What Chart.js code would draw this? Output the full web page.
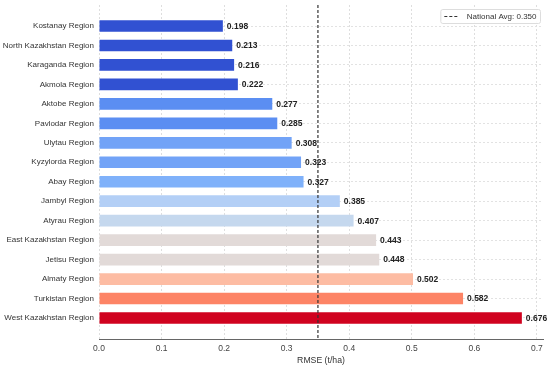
<!DOCTYPE html>
<html>
<head>
<meta charset="utf-8">
<script src="https://cdn.jsdelivr.net/npm/chart.js@4/dist/chart.umd.min.js"></script>
<style>
  html, body { margin: 0; padding: 0; background: #ffffff; }
  #wrap { width: 550px; height: 366px; position: relative; }
</style>
</head>
<body>
<div id="wrap"><canvas id="c" width="550" height="366"></canvas></div>
<script>
const regions = [
  "Kostanay Region", "North Kazakhstan Region", "Karaganda Region", "Akmola Region",
  "Aktobe Region", "Pavlodar Region", "Ulytau Region", "Kyzylorda Region",
  "Abay Region", "Jambyl Region", "Atyrau Region", "East Kazakhstan Region",
  "Jetisu Region", "Almaty Region", "Turkistan Region", "West Kazakhstan Region"
];
const rmse = [0.198, 0.213, 0.216, 0.222, 0.277, 0.285, 0.308, 0.323,
              0.327, 0.385, 0.407, 0.443, 0.448, 0.502, 0.582, 0.676];
const barColors = [
  "#3151d2", "#3151d2", "#3151d2", "#3151d2",
  "#5b8ef2", "#5b8ef2", "#72a3f7", "#72a3f7",
  "#7fb1fa", "#b3cff6", "#c5d8ee", "#e2dad8",
  "#e2dad8", "#fdbca3", "#fd8466", "#d0021f"
];
const xTicks = [0.0, 0.1, 0.2, 0.3, 0.4, 0.5, 0.6, 0.7];
const nationalAvg = 0.350;
const xAxisTitle = "RMSE (t/ha)";
const legendLabel = "National Avg: " + nationalAvg.toFixed(3);

const FONT = "'Liberation Sans', Arial, Helvetica, sans-serif";

const overlay = {
  id: 'overlay',
  afterDatasetsDraw(chart) {
    const ctx = chart.ctx;
    const xs = chart.scales.x, ys = chart.scales.y;
    const area = chart.chartArea;
    // value labels
    ctx.save();
    ctx.font = "bold 8.5px " + FONT;
    ctx.fillStyle = "#222222";
    ctx.textAlign = "left";
    ctx.textBaseline = "middle";
    rmse.forEach((v, i) => {
      ctx.fillText(v.toFixed(3), xs.getPixelForValue(v) + 4, ys.getPixelForValue(i) + 0.5);
    });
    ctx.restore();
    // national average line
    const ax = xs.getPixelForValue(nationalAvg);
    ctx.save();
    ctx.strokeStyle = "#333333";
    ctx.lineWidth = 1.2;
    ctx.setLineDash([3, 2]);
    ctx.beginPath();
    ctx.moveTo(ax, area.top);
    ctx.lineTo(ax, area.bottom);
    ctx.stroke();
    ctx.restore();
    // legend
    ctx.save();
    ctx.font = "8px " + FONT;
    const tw = ctx.measureText(legendLabel).width;
    const bw = tw + 30, bh = 14;
    const bx = area.right - 3 - bw, by = area.top + 4;
    ctx.fillStyle = "rgba(255,255,255,0.9)";
    ctx.strokeStyle = "#dddddd";
    ctx.lineWidth = 1;
    ctx.beginPath();
    ctx.roundRect(bx + 0.5, by + 0.5, bw, bh, 2);
    ctx.fill();
    ctx.stroke();
    ctx.strokeStyle = "#333333";
    ctx.lineWidth = 1.2;
    ctx.setLineDash([3, 2]);
    ctx.beginPath();
    ctx.moveTo(bx + 4, by + bh / 2 + 0.5);
    ctx.lineTo(bx + 19, by + bh / 2 + 0.5);
    ctx.stroke();
    ctx.setLineDash([]);
    ctx.fillStyle = "#333333";
    ctx.textBaseline = "middle";
    ctx.fillText(legendLabel, bx + 26.5, by + bh / 2 + 1);
    ctx.restore();
  }
};

new Chart(document.getElementById('c'), {
  type: 'bar',
  data: {
    datasets: [{
      data: rmse.map((v, i) => ({ x: v, y: i })),
      backgroundColor: barColors,
      borderWidth: 0,
      barPercentage: 0.6,
      categoryPercentage: 1.0
    }]
  },
  options: {
    indexAxis: 'y',
    responsive: false,
    animation: false,
    devicePixelRatio: 1,
    layout: { padding: { top: 0, right: 7, left: 0, bottom: 0 } },
    plugins: { legend: { display: false }, tooltip: { enabled: false } },
    scales: {
      x: {
        type: 'linear',
        min: 0,
        max: 0.7098,
        afterBuildTicks(scale) { scale.ticks = xTicks.map(v => ({ value: v })); },
        afterFit(scale) { scale.height = 27; },
        grid: { color: "#dedede", lineWidth: 1, drawTicks: false },
        border: { display: true, color: "#666666", width: 1, dash: [2, 2] },
        ticks: {
          padding: 5,
          color: "#444444",
          font: { family: FONT, size: 8.5 },
          callback: (v) => Number(v).toFixed(1)
        },
        title: {
          display: true,
          text: xAxisTitle,
          color: "#333333",
          font: { family: FONT, size: 8.7 },
          padding: { top: 1, bottom: 0 }
        }
      },
      y: {
        type: 'linear',
        reverse: true,
        offset: false,
        min: -1.08,
        max: regions.length - 1 + 1.08,
        afterBuildTicks(scale) { scale.ticks = regions.map((_, i) => ({ value: i })); },
        afterFit(scale) { scale.width = 99; scale.paddingTop = 5; },
        grid: { color: "#e2e2e2", lineWidth: 1, drawTicks: false, offset: false },
        border: { display: false, dash: [2, 2] },
        ticks: {
          padding: 5,
          color: "#333333",
          font: { family: FONT, size: 8 },
          callback: (v) => regions[v] !== undefined ? regions[v] : ''
        }
      }
    }
  },
  plugins: [overlay]
});
</script>
</body>
</html>
